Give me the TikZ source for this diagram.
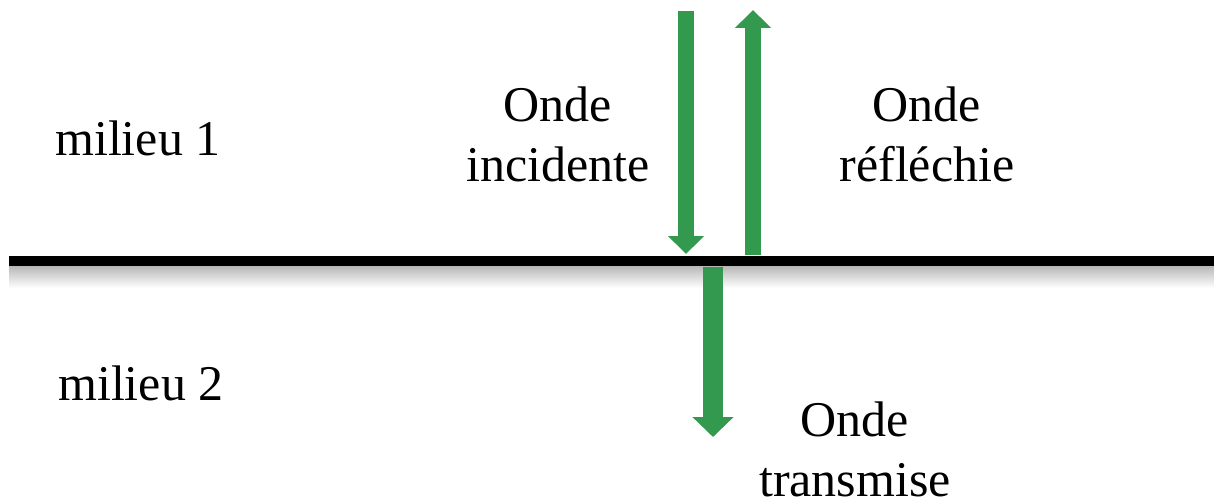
\documentclass[tikz,border=0pt]{standalone}
\usepackage{fontspec}
\setmainfont{Liberation Serif}
\usetikzlibrary{arrows.meta}
\definecolor{wavegreen}{RGB}{51,153,79}
\tikzset{
  lbl/.style={font=\fontsize{50}{60}\selectfont, inner sep=0pt, align=center, text=black},
  wavearrow/.style={draw=wavegreen, line width=16pt, -{Triangle[width=35pt,length=18pt]}},
  bigwave/.style={draw=wavegreen, line width=20pt, -{Triangle[width=40pt,length=20pt]}},
}
\begin{document}
\begin{tikzpicture}[x=1pt,y=-1pt]
\useasboundingbox (0,0) rectangle (1214,500);
% interface shadow and line
\shade[top color=black!28, bottom color=white] (9,266) rectangle (1214,288);
\coordinate (L) at (9,261);
\coordinate (R) at (1214,261);
\draw[line width=10pt] (L) -- (R);
% arrows
\coordinate (i1) at (686,11);
\coordinate (i2) at (686,254);
\coordinate (r1) at (753,255);
\coordinate (r2) at (753,10);
\coordinate (t1) at (713,267);
\coordinate (t2) at (713,437);
\draw[wavearrow] (i1) -- (i2);
\draw[wavearrow] (r1) -- (r2);
\draw[bigwave] (t1) -- (t2);
% labels
\node[lbl, anchor=base west] (m1) at (55,155) {milieu 1};
\node[lbl, anchor=base west] (m2) at (58,400) {milieu 2};
\node[lbl] (inc) at (558,134) {Onde\\incidente};
\node[lbl] (ref) at (927,134) {Onde\\réfléchie};
\node[lbl] (tra) at (855,449) {Onde\\transmise};
\end{tikzpicture}
\end{document}
